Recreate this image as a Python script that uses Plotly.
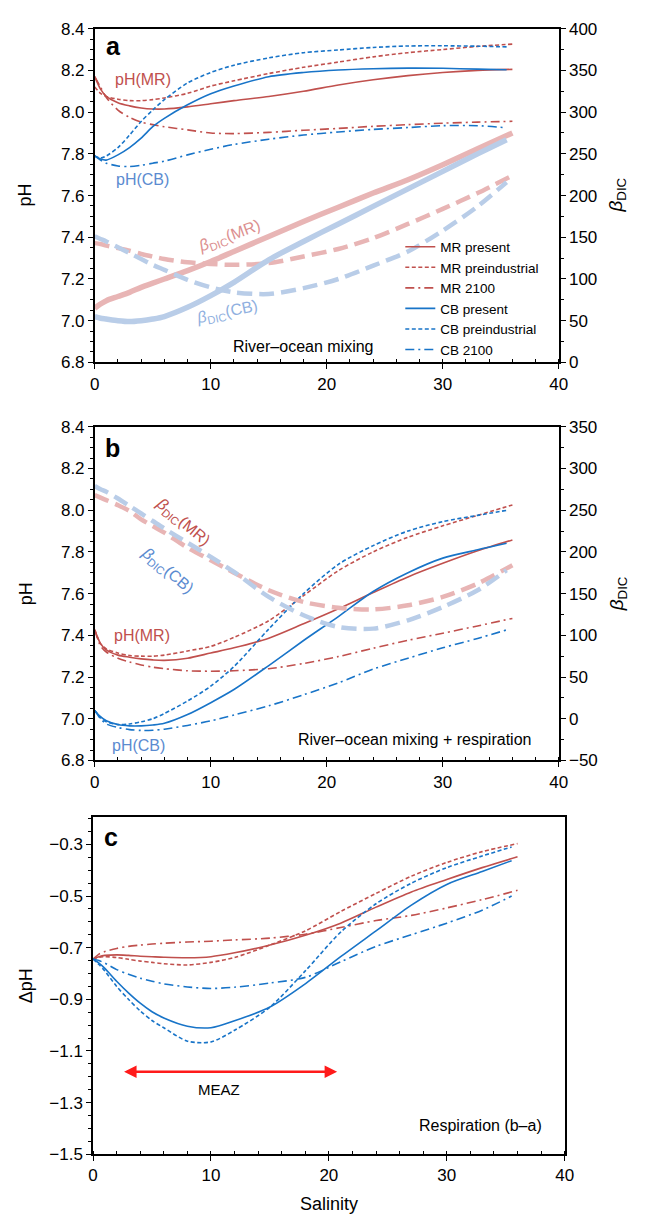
import plotly.graph_objects as go

# ---------------- data ----------------
S_MR = [0, 0.5, 1, 2, 3, 4, 5, 6, 8, 10, 12, 15, 18, 21, 24, 27, 30, 33, 36]
S_CB = [0, 0.5, 1, 2, 3, 4, 5, 6, 8, 10, 12, 15, 18, 21, 24, 27, 30, 33, 35.5]

# Panel a: river-ocean mixing (pH)
a_MR_present = [8.17, 8.11, 8.075, 8.045, 8.03, 8.02, 8.015, 8.015, 8.025, 8.04, 8.055, 8.075, 8.10, 8.13, 8.155, 8.175, 8.19, 8.20, 8.205]
a_MR_pre = [8.12, 8.09, 8.075, 8.062, 8.055, 8.055, 8.06, 8.068, 8.09, 8.125, 8.15, 8.185, 8.215, 8.24, 8.265, 8.285, 8.30, 8.315, 8.326]
a_MR_2100 = [8.17, 8.12, 8.07, 8.01, 7.975, 7.952, 7.94, 7.93, 7.915, 7.90, 7.897, 7.903, 7.913, 7.922, 7.932, 7.94, 7.947, 7.952, 7.956]
a_CB_present = [7.79, 7.775, 7.77, 7.795, 7.83, 7.875, 7.93, 7.97, 8.035, 8.088, 8.125, 8.17, 8.19, 8.202, 8.208, 8.211, 8.21, 8.206, 8.203]
a_CB_pre = [7.79, 7.78, 7.79, 7.83, 7.89, 7.955, 8.01, 8.06, 8.14, 8.19, 8.225, 8.26, 8.285, 8.298, 8.31, 8.317, 8.318, 8.316, 8.313]
a_CB_2100 = [7.79, 7.77, 7.755, 7.742, 7.739, 7.745, 7.755, 7.765, 7.795, 7.822, 7.845, 7.87, 7.89, 7.905, 7.917, 7.926, 7.935, 7.935, 7.925]
# Panel a: beta_DIC
a_bMR_solid = [65, 70, 74, 79, 84, 90, 95, 100, 110, 121, 133, 151, 169, 186, 203, 219, 237, 256, 275]
a_bMR_dash = [143, 142, 140, 137, 134, 130, 127, 124, 120, 118, 117, 119, 127, 136, 149, 166, 184, 203, 224]
a_bCB_solid = [55, 53, 52, 50, 49, 50, 52, 55, 66, 80, 96, 123, 145, 166, 187, 208, 229, 250, 267]
a_bCB_dash = [151, 148, 145, 138, 131, 124, 117, 111, 99, 90, 84, 82, 89, 100, 116, 133, 158, 187, 216]

# Panel b: river-ocean mixing + respiration (pH)
b_MR_present = [7.426, 7.36, 7.33, 7.305, 7.295, 7.287, 7.282, 7.28, 7.29, 7.315, 7.34, 7.386, 7.455, 7.527, 7.605, 7.68, 7.745, 7.805, 7.857]
b_MR_pre = [7.426, 7.36, 7.335, 7.315, 7.303, 7.30, 7.30, 7.305, 7.325, 7.347, 7.39, 7.47, 7.59, 7.71, 7.80, 7.87, 7.925, 7.975, 8.025]
b_MR_2100 = [7.426, 7.35, 7.32, 7.29, 7.272, 7.258, 7.247, 7.24, 7.23, 7.228, 7.23, 7.24, 7.265, 7.298, 7.338, 7.376, 7.41, 7.445, 7.481]
b_CB_present = [7.04, 7.01, 6.99, 6.972, 6.966, 6.966, 6.97, 6.978, 7.02, 7.077, 7.14, 7.255, 7.375, 7.49, 7.61, 7.70, 7.77, 7.81, 7.841]
b_CB_pre = [7.04, 7.005, 6.985, 6.972, 6.975, 6.985, 7.0, 7.025, 7.085, 7.156, 7.25, 7.43, 7.60, 7.74, 7.83, 7.90, 7.945, 7.975, 7.999]
b_CB_2100 = [7.04, 7.0, 6.975, 6.958, 6.948, 6.944, 6.945, 6.95, 6.968, 6.99, 7.018, 7.062, 7.115, 7.172, 7.238, 7.29, 7.34, 7.385, 7.426]
# Panel b: beta_DIC
b_bMR_dash = [268, 265, 262, 256, 249, 239, 231, 223, 205, 190, 175, 154, 140, 133, 131, 136, 146, 162, 184]
b_bCB_dash = [279, 275, 272, 264, 255, 246, 237, 228, 211, 194, 176, 146, 124, 110, 108, 118, 134, 154, 178]

# Panel c: respiration effect (b - a), delta pH
c_MR_present = [-0.744, -0.735, -0.73, -0.728, -0.73, -0.733, -0.735, -0.737, -0.739, -0.735, -0.72, -0.69, -0.652, -0.605, -0.543, -0.484, -0.436, -0.39, -0.348]
c_MR_pre = [-0.744, -0.737, -0.735, -0.738, -0.745, -0.752, -0.757, -0.762, -0.767, -0.757, -0.738, -0.69, -0.635, -0.56, -0.49, -0.423, -0.37, -0.328, -0.297]
c_MR_2100 = [-0.744, -0.725, -0.715, -0.703, -0.695, -0.69, -0.686, -0.683, -0.678, -0.675, -0.67, -0.663, -0.648, -0.622, -0.595, -0.575, -0.546, -0.514, -0.478]
c_CB_present = [-0.744, -0.76, -0.78, -0.83, -0.875, -0.915, -0.948, -0.972, -1.004, -1.01, -0.983, -0.93, -0.84, -0.735, -0.635, -0.535, -0.455, -0.405, -0.363]
c_CB_pre = [-0.744, -0.765, -0.79, -0.85, -0.90, -0.945, -0.982, -1.01, -1.062, -1.065, -1.02, -0.93, -0.79, -0.64, -0.53, -0.45, -0.39, -0.345, -0.31]
c_CB_2100 = [-0.744, -0.75, -0.76, -0.785, -0.803, -0.818, -0.83, -0.84, -0.852, -0.858, -0.853, -0.837, -0.815, -0.755, -0.695, -0.65, -0.605, -0.555, -0.50]

MEAZ = [2.5, 20.7]
MEAZ_Y = -1.18

legend_names = ["MR present", "MR preindustrial", "MR 2100", "CB present", "CB preindustrial", "CB 2100"]

# ---------------- styles ----------------
RED = "#c0504d"
BLUE = "#1874c8"
LRED = "#e8b5b5"
LBLUE = "#b9cde8"
DASH = "4px,2.5px"
DASHDOT = "9px,4px,2px,4px"
BDASH = "15px,7px"
FONT = "Liberation Sans"

W, H = 650, 1225
def px(x):
    return x / W
def py(y):
    return 1 - y / H

fig = go.Figure()

def add(x, y, color, dash, xa, ya, width=1.6, name=None, legend=False):
    fig.add_trace(go.Scatter(x=x, y=y, mode="lines", line=dict(color=color, width=width, dash=dash, shape="spline", smoothing=0.8),
                             name=name, showlegend=legend, xaxis=xa, yaxis=ya, hoverinfo="skip"))

# Panel a betas (drawn first)
add(S_MR, a_bMR_solid, LRED, "solid", "x", "y2", width=5.5)
add(S_MR, a_bMR_dash, LRED, BDASH, "x", "y2", width=4.5)
add(S_CB, a_bCB_solid, LBLUE, "solid", "x", "y2", width=5.5)
add(S_CB, a_bCB_dash, LBLUE, BDASH, "x", "y2", width=4.5)
# Panel a pH
series_a = [(S_MR, a_MR_present, RED, "solid"), (S_MR, a_MR_pre, RED, DASH), (S_MR, a_MR_2100, RED, DASHDOT),
            (S_CB, a_CB_present, BLUE, "solid"), (S_CB, a_CB_pre, BLUE, DASH), (S_CB, a_CB_2100, BLUE, DASHDOT)]
for (sx, sy, c, d), n in zip(series_a, legend_names):
    add(sx, sy, c, d, "x", "y", name=n, legend=True)

# Panel b
add(S_MR, b_bMR_dash, LRED, BDASH, "x2", "y4", width=4.5)
add(S_CB, b_bCB_dash, LBLUE, BDASH, "x2", "y4", width=4.5)
series_b = [(S_MR, b_MR_present, RED, "solid"), (S_MR, b_MR_pre, RED, DASH), (S_MR, b_MR_2100, RED, DASHDOT),
            (S_CB, b_CB_present, BLUE, "solid"), (S_CB, b_CB_pre, BLUE, DASH), (S_CB, b_CB_2100, BLUE, DASHDOT)]
for sx, sy, c, d in series_b:
    add(sx, sy, c, d, "x2", "y3")

# Panel c
series_c = [(S_MR, c_MR_present, RED, "solid"), (S_MR, c_MR_pre, RED, DASH), (S_MR, c_MR_2100, RED, DASHDOT),
            (S_CB, c_CB_present, BLUE, "solid"), (S_CB, c_CB_pre, BLUE, DASH), (S_CB, c_CB_2100, BLUE, DASHDOT)]
for sx, sy, c, d in series_c:
    add(sx, sy, c, d, "x3", "y5")

tickfont = dict(family=FONT, size=17, color="black")
common_x = dict(range=[0, 40], dtick=10, ticks="outside", ticklen=5, tickwidth=1.3, tickcolor="black",
                minor=dict(dtick=2, ticks="inside", ticklen=4, tickcolor="black", tickwidth=1.1),
                showline=True, mirror=True, linecolor="black", linewidth=1.5, showgrid=False, zeroline=False,
                tickfont=tickfont)
common_y = dict(ticks="outside", ticklen=5, tickwidth=1.3, tickcolor="black",
                showline=True, mirror=True, linecolor="black", linewidth=1.5, showgrid=False, zeroline=False,
                tickfont=tickfont)
right_y = dict(ticks="outside", ticklen=5, tickwidth=1.3, tickcolor="black", side="right",
               showline=True, linecolor="black", linewidth=1.5, showgrid=False, zeroline=False, tickfont=tickfont,
               minor=dict(dtick=25, ticks="outside", ticklen=3, tickcolor="black", tickwidth=1.1))

fig.update_layout(
    width=W, height=H, margin=dict(l=0, r=0, t=0, b=0),
    paper_bgcolor="white", plot_bgcolor="white",
    font=dict(family=FONT, color="black"),
    xaxis=dict(domain=[px(91.7), px(566)], anchor="y", **common_x),
    yaxis=dict(domain=[py(359), py(20)], range=[6.8, 8.4], dtick=0.2, tick0=6.8, tickformat=".1f", anchor="x",
               minor=dict(dtick=0.05, ticks="outside", ticklen=3, tickcolor="black", tickwidth=1.1), **common_y),
    yaxis2=dict(overlaying="y", anchor="x", range=[0, 400], dtick=50, tick0=0, **right_y),
    xaxis2=dict(domain=[px(91.7), px(566)], anchor="y3", **common_x),
    yaxis3=dict(domain=[py(763.3), py(424.3)], range=[6.8, 8.4], dtick=0.2, tick0=6.8, tickformat=".1f", anchor="x2",
                minor=dict(dtick=0.05, ticks="outside", ticklen=3, tickcolor="black", tickwidth=1.1), **common_y),
    yaxis4=dict(overlaying="y3", anchor="x2", range=[-50, 350], dtick=50, tick0=-50, **right_y),
    xaxis3=dict(domain=[px(90), px(572)], anchor="y5", **common_x),
    yaxis5=dict(domain=[py(1163.3), py(821)], range=[-1.5, -0.195], dtick=0.2, tick0=-1.5, tickformat=".1f", anchor="x3",
                minor=dict(dtick=0.05, ticks="outside", ticklen=3, tickcolor="black", tickwidth=1.1), **common_y),
    legend=dict(x=px(404), y=py(226), xanchor="left", yanchor="top", bgcolor="rgba(0,0,0,0)",
                font=dict(family=FONT, size=13.5, color="black"), tracegroupgap=0, itemwidth=30),
    showlegend=True,
)

ann = []
def text(x, y, t, xref, yref, size=16, color="black", angle=0, **kw):
    ann.append(dict(x=x, y=y, xref=xref, yref=yref, text=t, showarrow=False, xanchor="center", yanchor="middle",
                    font=dict(family=FONT, size=size, color=color), textangle=angle, **kw))

BDIC = "<i>β</i><sub>DIC</sub>"
# panel letters
text(1.6, 8.315, "<b>a</b>", "x", "y", size=25)
text(1.5, 8.30, "<b>b</b>", "x2", "y3", size=25)
text(1.55, -0.27, "<b>c</b>", "x3", "y5", size=25)
# panel a labels
text(4.15, 8.156, "pH(MR)", "x", "y", color=RED)
text(4.1, 7.678, "pH(CB)", "x", "y", color="#5b8bd0")
text(11.6, 7.405, BDIC + "(MR)", "x", "y", color="#dc8f8f", angle=-20)
text(11.4, 7.04, BDIC + "(CB)", "x", "y", color="#8fb0e0", angle=-12)
text(18.0, 6.878, "River–ocean mixing", "x", "y")
# panel b labels
text(7.6, 7.94, BDIC + "(MR)", "x2", "y3", color=RED, angle=40)
text(6.2, 7.71, BDIC + "(CB)", "x2", "y3", color="#5b8bd0", angle=40)
text(4.1, 7.397, "pH(MR)", "x2", "y3", color=RED)
text(3.8, 6.871, "pH(CB)", "x2", "y3", color="#5b8bd0")
text(27.6, 6.90, "River–ocean mixing + respiration", "x2", "y3")
# panel c labels
text(32.9, -1.388, "Respiration (b–a)", "x3", "y5")
text(10.7, -1.249, "MEAZ", "x3", "y5", size=15)
ann.append(dict(x=MEAZ[1], y=MEAZ_Y, ax=MEAZ[0], ay=MEAZ_Y, xref="x3", yref="y5", axref="x3", ayref="y5",
                text="", showarrow=True, arrowhead=2, arrowside="end+start", arrowsize=1, arrowwidth=2.5,
                arrowcolor="#ff1a1a"))
# axis titles
text(px(21), py(189), "pH", "paper", "paper", size=18, angle=-90)
text(px(21), py(594), "pH", "paper", "paper", size=18, angle=-90)
text(px(21), py(992), "ΔpH", "paper", "paper", size=18, angle=-90)
text(px(626), py(189), BDIC, "paper", "paper", size=19, angle=-90)
text(px(626), py(594), BDIC, "paper", "paper", size=19, angle=-90)
text(px(331), py(1214), "Salinity", "paper", "paper", size=18)

fig.update_layout(annotations=ann)
fig.write_html("out.html",
               post_script="document.body.style.margin='0';document.documentElement.style.margin='0';document.body.style.overflow='hidden';")
